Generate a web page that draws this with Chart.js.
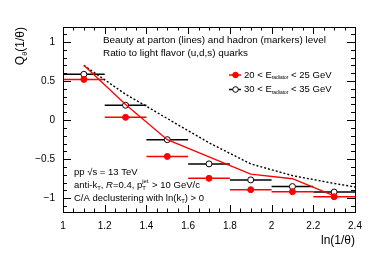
<!DOCTYPE html>
<html>
<head>
<meta charset="utf-8">
<script src="https://cdn.jsdelivr.net/npm/chart.js@4.4.1/dist/chart.umd.min.js"></script>
<style>
  html, body { margin: 0; padding: 0; background: #fff; }
  #wrap { width: 374px; height: 266px; }
</style>
</head>
<body>
<div id="wrap"><canvas id="qtheta" width="374" height="266"></canvas></div>
<script>
// bin centres in ln(1/theta), bin width 0.2
const binCenters = [1.1, 1.3, 1.5, 1.7, 1.9, 2.1, 2.3];
const binWidth = 0.2;

// hadron level (markers)
const hadron20 = [0.52, 0.035, -0.465, -0.745, -0.89, -0.915, -0.98];
const hadron30 = [0.585, 0.19, -0.25, -0.56, -0.765, -0.85, -0.92];

// parton level (lines)
const parton20 = [0.70, 0.20, -0.25, -0.47, -0.69, -0.75, -0.97];
const parton30X = [1.1, 1.3, 1.5, 1.7, 1.9, 2.1, 2.3, 2.4];
const parton30 = [0.70, 0.33, 0.02, -0.29, -0.56, -0.71, -0.81, -0.855];

const xTicks = [1, 1.2, 1.4, 1.6, 1.8, 2, 2.2, 2.4];
const yTicks = [-1, -0.5, 0, 0.5, 1];

const FONT = "'Liberation Sans', Arial, Helvetica, sans-serif";
const RED = "#ff0000";

const toPts = (xs, ys) => xs.map((x, i) => ({ x: x, y: ys[i] }));
const fmt = (v) => String(v).replace("-", "\u2212");

// draw text made of normal / sub / sup pieces
function drawRich(ctx, x, y, parts, size, subScale) {
    const k = subScale || 0.62;
    ctx.textBaseline = "middle";
    ctx.textAlign = "left";
    parts.forEach(([txt, mode]) => {
        let s = size, dy = 0;
        if (mode === "sub") { s = size * k; dy = size * 0.32; }
        if (mode === "sup") { s = size * k; dy = -size * 0.38; }
        ctx.font = s + "px " + FONT;
        ctx.fillText(txt, x, y + dy);
        x += ctx.measureText(txt).width;
    });
    return x;
}

const frameAndTicks = {
    id: "frameAndTicks",
    beforeDatasetsDraw(chart) {
        // horizontal error bars = bin width
        const { ctx, scales: { x, y } } = chart;
        ctx.save();
        ctx.lineWidth = 1.5;
        [[hadron30, "#000"], [hadron20, RED]].forEach(([vals, col]) => {
            ctx.strokeStyle = col;
            vals.forEach((v, i) => {
                const py = y.getPixelForValue(v);
                ctx.beginPath();
                ctx.moveTo(x.getPixelForValue(binCenters[i] - binWidth / 2), py);
                ctx.lineTo(x.getPixelForValue(binCenters[i] + binWidth / 2), py);
                ctx.stroke();
            });
        });
        ctx.restore();
    },
    afterDraw(chart) {
        const { ctx, chartArea: a, scales: { x, y } } = chart;
        ctx.save();
        ctx.strokeStyle = "#000";
        ctx.lineWidth = 1;
        ctx.strokeRect(Math.round(a.left) + 0.5, Math.round(a.top) + 0.5,
            Math.round(a.right - a.left), Math.round(a.bottom - a.top));

        // major + minor ticks on all four sides, pointing inwards
        const tickX = (v, len) => {
            const px = Math.round(x.getPixelForValue(v)) + 0.5;
            ctx.beginPath();
            ctx.moveTo(px, a.bottom); ctx.lineTo(px, a.bottom - len);
            ctx.moveTo(px, a.top); ctx.lineTo(px, a.top + len);
            ctx.stroke();
        };
        const tickY = (v, len) => {
            const py = Math.round(y.getPixelForValue(v)) + 0.5;
            ctx.beginPath();
            ctx.moveTo(a.left, py); ctx.lineTo(a.left + len, py);
            ctx.moveTo(a.right, py); ctx.lineTo(a.right - len, py);
            ctx.stroke();
        };
        const xStep = (xTicks[1] - xTicks[0]) / 4;
        for (let v = x.min; v <= x.max + 1e-9; v += xStep) tickX(v, 3.5);
        xTicks.forEach((v) => tickX(v, 7));
        const yStep = (yTicks[1] - yTicks[0]) / 5;
        for (let v = yTicks[0]; v >= y.min; v -= yStep) tickY(v, 4);
        for (let v = yTicks[0]; v <= y.max; v += yStep) tickY(v, 4);
        yTicks.forEach((v) => tickY(v, 8));

        ctx.fillStyle = "#000";
        // axis titles
        ctx.font = "12px " + FONT;
        ctx.textAlign = "right";
        ctx.textBaseline = "middle";
        ctx.fillText("ln(1/\u03b8)", a.right, 241);

        ctx.save();
        ctx.translate(21, a.top);
        ctx.rotate(-Math.PI / 2);
        ctx.font = "12px " + FONT;
        const w1 = ctx.measureText("Q").width;
        ctx.font = "7.44px " + FONT;
        const w2 = ctx.measureText("\u03b8").width;
        ctx.font = "12px " + FONT;
        const w3 = ctx.measureText("(1/\u03b8)").width;
        drawRich(ctx, -(w1 + w2 + w3), 0, [["Q", "n"], ["\u03b8", "sub"], ["(1/\u03b8)", "n"]], 12);
        ctx.restore();

        // header text
        ctx.fillStyle = "#000";
        drawRich(ctx, 103, 40, [["Beauty at parton (lines) and hadron (markers) level", "n"]], 9.9);
        drawRich(ctx, 103, 53, [["Ratio to light flavor (u,d,s) quarks", "n"]], 9.9);

        // legend
        const legend = [
            [RED, true, 75, "20 < E", " < 25 GeV"],
            ["#000", false, 89.5, "30 < E", " < 35 GeV"],
        ];
        legend.forEach(([col, filled, ly, t1, t2]) => {
            ctx.strokeStyle = col;
            ctx.lineWidth = 1.5;
            ctx.beginPath();
            ctx.moveTo(229, ly); ctx.lineTo(241, ly);
            ctx.stroke();
            ctx.beginPath();
            ctx.arc(235.5, ly, 2.8, 0, Math.PI * 2);
            ctx.fillStyle = filled ? col : "#fff";
            ctx.fill();
            ctx.lineWidth = 1;
            ctx.stroke();
            ctx.fillStyle = "#000";
            drawRich(ctx, 244, ly, [[t1, "n"], ["radiator", "sub"], [t2, "n"]], 9.5, 0.52);
        });

        // bottom-left labels
        drawRich(ctx, 74, 172, [["pp \u221As = 13 TeV", "n"]], 9.5);
        let px = drawRich(ctx, 74, 185, [["anti-k", "n"], ["T", "sub"], [", ", "n"]], 9.5);
        ctx.font = "italic 9.5px " + FONT;
        ctx.fillText("R", px, 185);
        px += ctx.measureText("R").width;
        px = drawRich(ctx, px, 185, [["=0.4, p", "n"]], 9.5);
        drawRich(ctx, px, 185, [["T", "sub"]], 9.5);
        px = drawRich(ctx, px, 185, [["jet", "sup"]], 9.5) + 1;
        drawRich(ctx, px, 185, [[" > 10 GeV/c", "n"]], 9.5);
        drawRich(ctx, 74, 198, [["C/A declustering with ln(k", "n"], ["T", "sub"], [") > 0", "n"]], 9.5);
        ctx.restore();
    },
};

new Chart(document.getElementById("qtheta"), {
    type: "scatter",
    data: {
        datasets: [
            {
                label: "parton 20-25",
                data: toPts(binCenters, parton20),
                showLine: true,
                borderColor: RED,
                borderWidth: 1.3,
                pointRadius: 0,
            },
            {
                label: "parton 30-35",
                data: toPts(parton30X, parton30),
                showLine: true,
                borderColor: "#000",
                borderWidth: 1.4,
                borderDash: [2, 2],
                pointRadius: 0,
            },
            {
                label: "20 < E < 25 GeV",
                data: toPts(binCenters, hadron20),
                showLine: false,
                pointRadius: 3,
                pointBackgroundColor: RED,
                pointBorderColor: RED,
                pointBorderWidth: 1,
            },
            {
                label: "30 < E < 35 GeV",
                data: toPts(binCenters, hadron30),
                showLine: false,
                pointRadius: 3,
                pointBackgroundColor: "#fff",
                pointBorderColor: "#000",
                pointBorderWidth: 1,
            },
        ],
    },
    options: {
        responsive: false,
        animation: false,
        devicePixelRatio: 1,
        layout: { padding: { top: 27, right: 19, left: 0, bottom: 0 } },
        plugins: {
            legend: { display: false },
            tooltip: { enabled: false },
        },
        scales: {
            x: {
                type: "linear",
                min: 1,
                max: 2.4,
                grid: { display: false, drawTicks: false },
                border: { display: false },
                afterBuildTicks: (s) => { s.ticks = xTicks.map((v) => ({ value: v })); },
                afterFit: (s) => { s.height = 54; },
                ticks: {
                    padding: 8,
                    color: "#000",
                    font: { family: FONT, size: 10 },
                    maxRotation: 0,
                    callback: (v) => fmt(v),
                },
            },
            y: {
                type: "linear",
                min: -1.175,
                max: 1.19,
                grid: { display: false, drawTicks: false },
                border: { display: false },
                afterBuildTicks: (s) => { s.ticks = yTicks.map((v) => ({ value: v })); },
                afterFit: (s) => { s.width = 63; },
                ticks: {
                    padding: 8,
                    color: "#000",
                    font: { family: FONT, size: 10 },
                    callback: (v) => fmt(v),
                },
            },
        },
    },
    plugins: [frameAndTicks],
});
</script>
</body>
</html>
